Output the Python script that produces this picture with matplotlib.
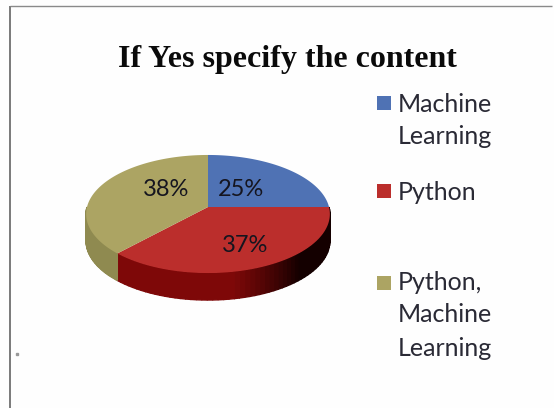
import numpy as np
import matplotlib
matplotlib.use("Agg")
import matplotlib.pyplot as plt
from matplotlib.patches import Rectangle

title = "If Yes specify the content"
categories = ["Machine\nLearning", "Python", "Python,\nMachine\nLearning"]
values = [25, 37, 38]
labels = ["25%", "37%", "38%"]

W, H = 554, 408
top_colors = ["#4f72b4", "#bb2e2c", "#aca463"]
side_colors = [("#2c4476", "#2c4476"), ("#140000", "#7e0808"), ("#8f8a50", "#8f8a50")]
CX, CY, A, B, K, DEPTH = 208, 207, 121, 58.2, 0.1186, 27


def project(theta):
    u, v = np.cos(theta), np.sin(theta)
    d = 1 + K * v
    return CX + A * u / d, CY - B * v / d


def hex2rgb(c):
    return np.array(matplotlib.colors.to_rgb(c))


fig = plt.figure(figsize=(W / 100, H / 100), dpi=100, facecolor="#fefefe")
ax = fig.add_axes([0, 0, 1, 1])
ax.set_xlim(0, W)
ax.set_ylim(H, 0)
ax.axis("off")

ax.plot([10, 10], [H, 6], color="#7a7a7a", lw=1.4, solid_capstyle="butt")
ax.plot([10, W - 2], [6, 6], color="#8a8a8a", lw=1.0, solid_capstyle="butt")
ax.plot([17], [354], marker="s", ms=2, color="#999999")

fractions = np.array(values) / sum(values)
edges = np.pi / 2 - 2 * np.pi * np.concatenate([[0], np.cumsum(fractions)])

# Front wall of the disc, drawn in short shaded pieces
for i in range(len(values)):
    start, end = edges[i], edges[i + 1]
    lo = max(end, -np.pi)
    hi = min(start, 0)
    if lo >= hi:
        continue
    ts = np.linspace(hi, lo, 60)
    c0, c1 = hex2rgb(side_colors[i][0]), hex2rgb(side_colors[i][1])
    for j in range(len(ts) - 1):
        x, y = project(np.array([ts[j], ts[j + 1]]))
        s = np.clip((j / (len(ts) - 2) - 0.35) / 0.25, 0, 1)
        col = c0 + (c1 - c0) * s
        ax.fill([x[0], x[1], x[1], x[0]],
                [y[0], y[1], y[1] + DEPTH, y[0] + DEPTH],
                fc=col, ec=col, lw=1.0)

# Top face
for i in range(len(values)):
    ts = np.linspace(edges[i], edges[i + 1], 120)
    x, y = project(ts)
    ax.fill(np.r_[CX, x], np.r_[CY, y], color=top_colors[i], lw=0)

label_pos = [(241, 189), (245, 245), (166, 189)]
for s, (x, y) in zip(labels, label_pos):
    ax.text(x, y, s, family="Lato", fontsize=17, color="#15151f",
            ha="center", va="center")

ax.text(287.5, 59, title, family="Liberation Serif", fontweight="bold",
        fontsize=23, color="#0a0a0a", ha="center", va="center")

legend_rows = [(104, 137), (192,), (283, 315, 349)]
swatch_y = [103, 191, 283]
for i, cat in enumerate(categories):
    ax.add_patch(Rectangle((377, swatch_y[i] - 7), 14, 14, fc=top_colors[i], ec="none"))
    for line, y in zip(cat.split("\n"), legend_rows[i]):
        ax.text(398, y, line, family="Lato", fontsize=18, color="#2a2a35",
                ha="left", va="center")

fig.savefig("out.png", dpi=100, facecolor=fig.get_facecolor())
